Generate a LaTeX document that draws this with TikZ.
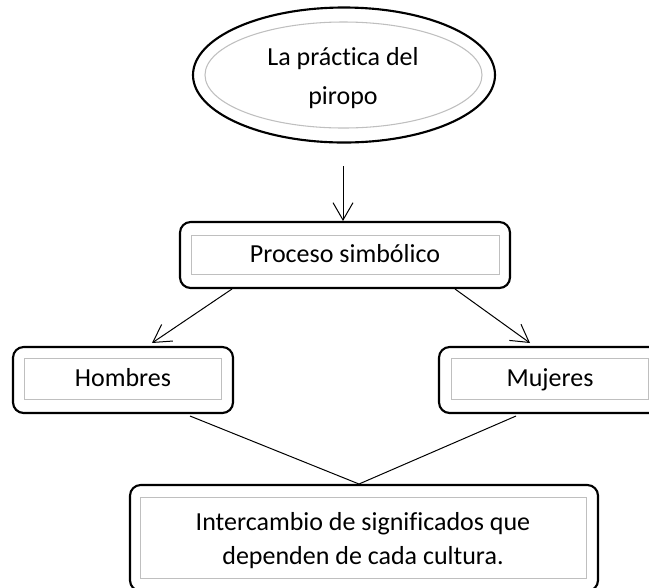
\documentclass[tikz,border=0pt]{standalone}
\usepackage{fontspec}
\setmainfont{Carlito}[Ligatures=NoCommon,Contextuals=NoAlternate]
\usetikzlibrary{arrows.meta,shapes.geometric}
\begin{document}
\begin{tikzpicture}[x=0.75pt,y=-0.75pt,
  outerbox/.style={draw=black,line width=1.6pt,rounded corners=8pt,inner sep=0pt},
  innerbox/.style={draw=black!25,line width=0.8pt},
  outerell/.style={draw=black,line width=1.6pt,ellipse,inner sep=0pt},
  txt/.style={font=\fontsize{19.5}{25.5}\selectfont,align=center},
  oneline/.style={txt,text height=10pt,text depth=3pt},
  conn/.style={draw=black,line width=0.75pt},
  arr/.style={conn,-{Straight Barb[length=13pt,width=15pt,line width=0.75pt]}}]
\useasboundingbox (0,0) rectangle (649,587);
\clip (0,0) rectangle (649,587);
% ellipse
\node[outerell,minimum width=226.5pt,minimum height=101.25pt] (ell) at (344,75) {};
\node[ellipse,draw=black!25,line width=0.8pt,minimum width=207.75pt,minimum height=79.5pt,inner sep=0pt] (elli) at (343.5,75) {};
\node[txt,font=\fontsize{19.5}{29}\selectfont] (elltxt) at (343,78) {La práctica del\\piropo};
% proceso
\node[outerbox,minimum width=247.5pt,minimum height=49.5pt] (proc) at (345,255) {};
\draw[innerbox] ([shift={(13,15)}]proc.north west) rectangle ([shift={(-12,-15)}]proc.south east);
\node[oneline] (proctxt) at (345,258) {Proceso simbólico};
% hombres
\node[outerbox,minimum width=165pt,minimum height=49.5pt] (hom) at (123,380) {};
\draw[innerbox] ([shift={(13,13)}]hom.north west) rectangle ([shift={(-13,-15)}]hom.south east);
\node[oneline] (homtxt) at (123,382) {Hombres};
% mujeres
\node[outerbox,minimum width=166.5pt,minimum height=49.5pt] (muj) at (550,380) {};
\draw[innerbox] ([shift={(14,13)}]muj.north west) rectangle ([shift={(-14,-15)}]muj.south east);
\node[oneline] (mujtxt) at (550,382) {Mujeres};
% bottom
\node[outerbox,minimum width=351pt,minimum height=79.5pt] (bot) at (364,538) {};
\draw[innerbox] ([shift={(12,14)}]bot.north west) rectangle ([shift={(-13,-14)}]bot.south east);
\node[txt] (bottxt) at (363,541) {Intercambio de significados que\\dependen de cada cultura.};
% connectors
\coordinate (a1s) at (343,166);
\coordinate (a1e) at (343,221);
\draw[arr] (a1s) -- (a1e);
\coordinate (a2s) at (232,289);
\coordinate (a2e) at (152,343);
\draw[arr] (a2s) -- (a2e);
\coordinate (a3s) at (455,289);
\coordinate (a3e) at (530,343);
\draw[arr] (a3s) -- (a3e);
\coordinate (l1) at (190,416);
\coordinate (l2) at (516,416);
\coordinate (apex) at (359,484);
\draw[conn] (l1) -- (apex) -- (l2);
\end{tikzpicture}
\end{document}
